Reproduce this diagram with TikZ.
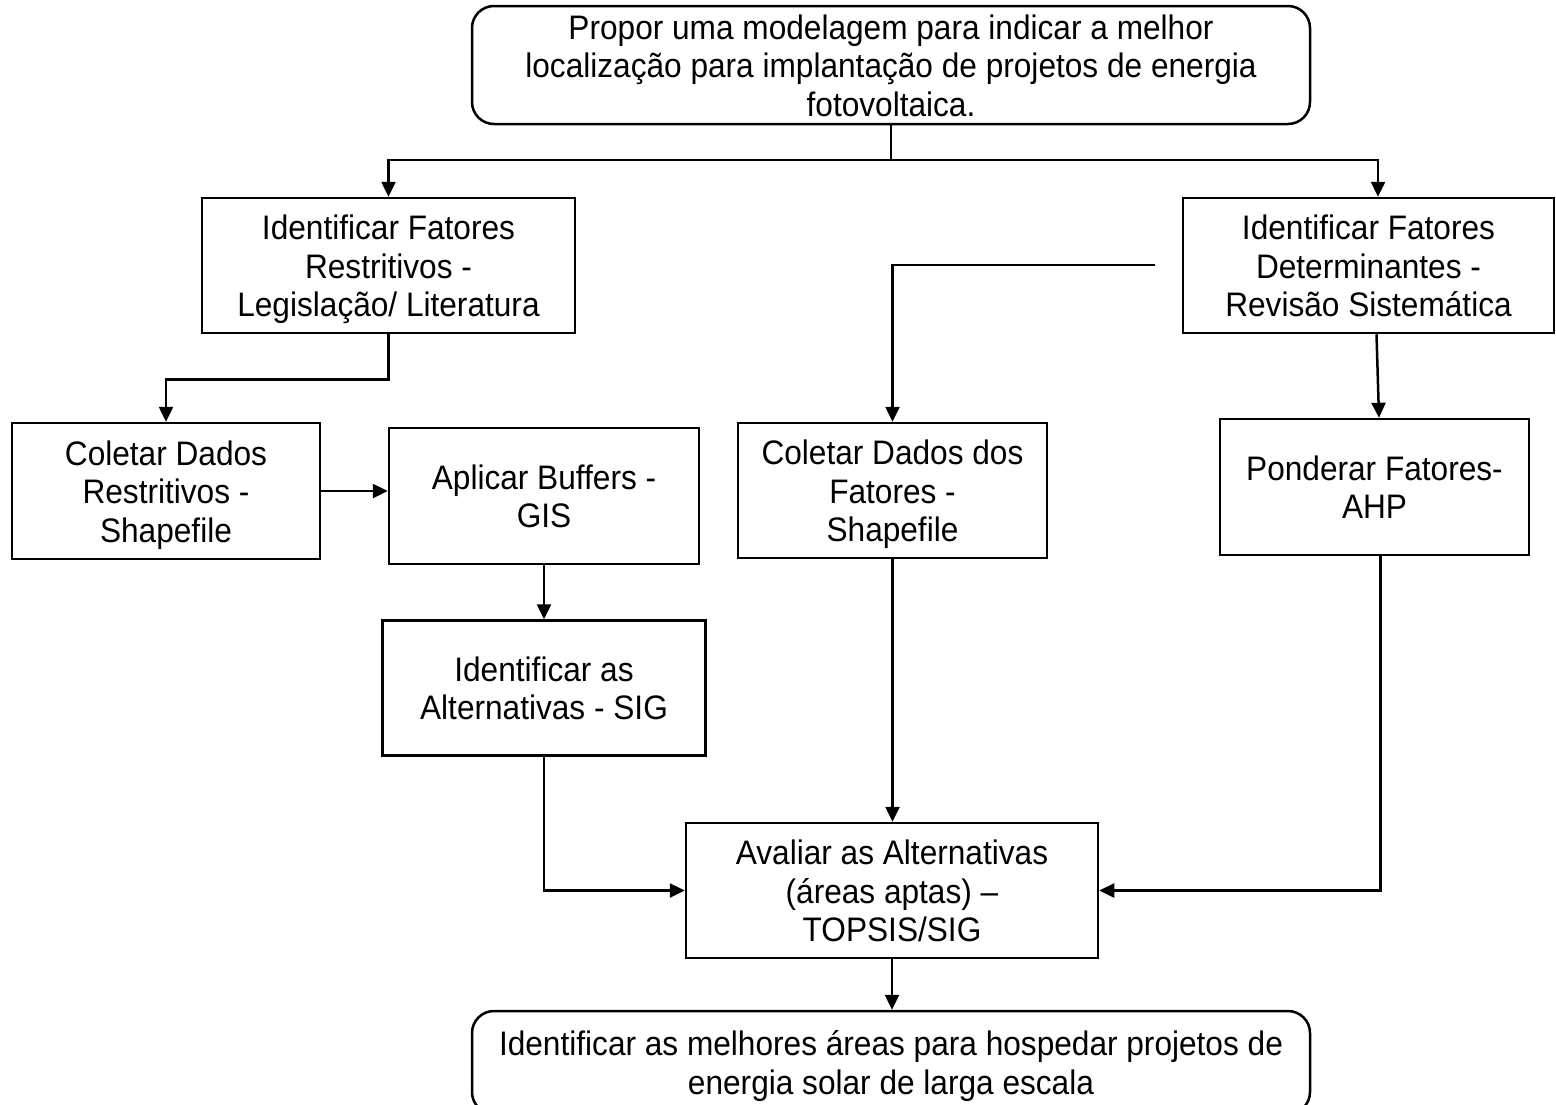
\documentclass[tikz,border=0pt]{standalone}
\usepackage{fontspec}
\setmainfont[FakeStretch=0.93]{Liberation Sans}
\usetikzlibrary{arrows.meta,calc}
\newcommand\boxtext[2][-5pt]{\raisebox{#1}[\height][\depth]{\begin{tabular}{@{}c@{}}#2\end{tabular}}}
\begin{document}
\begin{tikzpicture}[x=1pt,y=-1pt,
  box/.style={draw, line width=2.5pt, inner sep=0pt, font=\fontsize{34}{38.5}\selectfont},
  rbox/.style={box, rounded corners=22pt},
  arr/.style={line width=2.5pt, -{Triangle[length=15pt,width=14pt]}},
  ln/.style={line width=2.5pt}]
\useasboundingbox (0,0) rectangle (1556,1104);
\node[rbox, minimum width=838pt, minimum height=118pt] (top) at (891,65)
  {\boxtext{Propor uma modelagem para indicar a melhor\\localização para implantação de projetos de energia\\fotovoltaica.}};
\node[box, minimum width=373pt, minimum height=135pt] (A) at (388.5,265.5)
  {\boxtext{Identificar Fatores\\Restritivos -\\Legislação/ Literatura}};
\node[box, minimum width=371pt, minimum height=135pt] (B) at (1368.5,265.5)
  {\boxtext{Identificar Fatores\\Determinantes -\\Revisão Sistemática}};
\node[box, minimum width=308pt, minimum height=136pt] (C) at (166,491)
  {\boxtext{Coletar Dados\\Restritivos -\\Shapefile}};
\node[box, minimum width=310pt, minimum height=136pt] (F) at (544,496)
  {\boxtext{Aplicar Buffers -\\GIS}};
\node[box, minimum width=309pt, minimum height=135pt] (D) at (892.5,490.5)
  {\boxtext{Coletar Dados dos\\Fatores -\\Shapefile}};
\node[box, minimum width=309pt, minimum height=136pt] (E) at (1374.5,487)
  {\boxtext{Ponderar Fatores-\\AHP}};
\node[box, minimum width=323pt, minimum height=135pt] (G) at (544,688)
  {\boxtext{Identificar as\\Alternativas - SIG}};
\node[box, minimum width=412pt, minimum height=135pt] (H) at (892,890.5)
  {\boxtext{Avaliar as Alternativas\\(áreas aptas) –\\TOPSIS/SIG}};
\node[rbox, minimum width=838pt, minimum height=103pt] (I) at (891,1062.5)
  {\boxtext{Identificar as melhores áreas para hospedar projetos de\\energia solar de larga escala}};
\coordinate (j) at (891,160);
\coordinate (bfree) at (1155,265);
\draw[ln] (top.south) -- (j);
\draw[arr] (j) -| (A.north);
\draw[arr] (j) -| ([xshift=9.5pt]B.north);
\draw[arr] (A.south) -- ++(0,45) -| (C.north);
\draw[arr] (bfree) -| (D.north);
\draw[arr] ([xshift=8pt]B.south) -- ([xshift=4.5pt]E.north);
\draw[arr] (C.east) -- (C.east -| F.west);
\draw[arr] (F.south) -- (G.north);
\draw[arr] (D.south) -- (D.south |- H.north);
\draw[arr] (G.south) |- (H.west);
\draw[arr] ([xshift=6pt]E.south) |- (H.east);
\draw[arr] (H.south) -- (H.south |- I.north);
\end{tikzpicture}
\end{document}
